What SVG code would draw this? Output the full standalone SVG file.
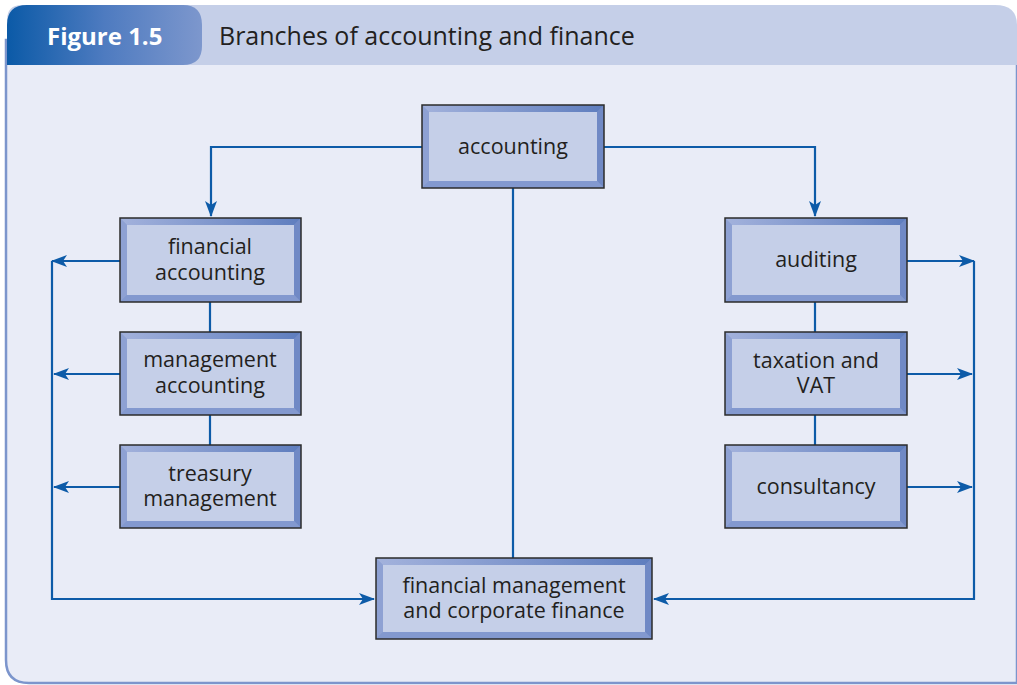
<svg xmlns="http://www.w3.org/2000/svg" width="1017" height="685" viewBox="0 0 1017 685">
<defs>
<linearGradient id="tab" x1="0" y1="0" x2="1" y2="0">
<stop offset="0" stop-color="#0B5AA7"/><stop offset="0.5" stop-color="#4E7BC0"/><stop offset="1" stop-color="#7D97CD"/>
</linearGradient>
<linearGradient id="topband" x1="0" y1="0" x2="1" y2="0">
<stop offset="0" stop-color="#A3B2DC"/><stop offset="1" stop-color="#5E7DBE"/>
</linearGradient>
<marker id="ah" viewBox="0 0 16 12" refX="15" refY="6" markerWidth="16" markerHeight="12" markerUnits="userSpaceOnUse" orient="auto">
<path d="M0,0 L16,6 L0,12 L4,6 Z" fill="#0D5BA8"/>
</marker>
<style>
.face{fill:#C5CFE8}
.bev{fill:#8197CD}
.lt{fill:#8EA1D3}
.rt{fill:#7089C5}
.bt{fill:#8399CF}
.out{fill:none;stroke:#2B2B2B;stroke-width:1.5}
.t{font-family:"Open Sans","Noto Sans","Liberation Sans",sans-serif;font-size:21.5px;fill:#231F20;text-anchor:middle}
.c{fill:none;stroke:#0D5BA8;stroke-width:2.2}
</style>
</defs>
<rect x="0" y="0" width="1017" height="685" fill="#FFFFFF"/>
<path d="M6,40 L6,660 Q6,683 29,683 L1017,683 L1017,40 Z" fill="#E9ECF7" stroke="#7C95CC" stroke-width="2.5"/>
<path d="M7,65 L7,20 Q7,5 22,5 L995,5 Q1017,5 1017,25 L1017,65 Z" fill="#C5CFE8"/>
<path d="M7,65 L7,25 Q7,5 27,5 L183,5 Q202,5 202,25 L202,46 Q202,65 183,65 Z" fill="url(#tab)"/>
<text x="47" y="45" font-family="'Open Sans','Noto Sans','Liberation Sans',sans-serif" font-size="24" font-weight="bold" fill="#FFFFFF">Figure 1.5</text>
<text x="219" y="45" font-family="'Open Sans','Noto Sans','Liberation Sans',sans-serif" font-size="25" fill="#231F20">Branches of accounting and finance</text>

<g id="connectors">
<path class="c" d="M422,147 H211 V216" marker-end="url(#ah)"/>
<path class="c" d="M604,147 H815 V216" marker-end="url(#ah)"/>
<path class="c" d="M513,188 V558"/>
<path class="c" d="M210,302 V332 M210,415 V445"/>
<path class="c" d="M815,302 V332 M815,415 V445"/>
<path class="c" d="M120,261 H52" marker-end="url(#ah)"/>
<path class="c" d="M120,374 H54" marker-end="url(#ah)"/>
<path class="c" d="M120,487 H54" marker-end="url(#ah)"/>
<path class="c" d="M52,261 V599 H374" marker-end="url(#ah)"/>
<path class="c" d="M907,261 H974" marker-end="url(#ah)"/>
<path class="c" d="M907,374 H972" marker-end="url(#ah)"/>
<path class="c" d="M907,487 H972" marker-end="url(#ah)"/>
<path class="c" d="M974,261 V599 H654" marker-end="url(#ah)"/>
</g>

<g id="accounting">
<rect class="bev" x="422" y="105" width="182" height="83"/>
<polygon class="lt" points="422,105 429,112 429,181 422,188"/>
<polygon class="rt" points="604,105 597,112 597,181 604,188"/>
<polygon class="bt" points="422,188 429,181 597,181 604,188"/>
<polygon fill="url(#topband)" points="422,105 604,105 597,112 429,112"/>
<rect class="face" x="429" y="112" width="168" height="69"/>
<rect class="out" x="422" y="105" width="182" height="83"/>
<text class="t" x="513" y="154">accounting</text>
</g>

<g id="financial-accounting">
<rect class="bev" x="120" y="218" width="181" height="84"/>
<polygon class="lt" points="120,218 127,225 127,295 120,302"/>
<polygon class="rt" points="301,218 294,225 294,295 301,302"/>
<polygon class="bt" points="120,302 127,295 294,295 301,302"/>
<polygon fill="url(#topband)" points="120,218 301,218 294,225 127,225"/>
<rect class="face" x="127" y="225" width="167" height="70"/>
<rect class="out" x="120" y="218" width="181" height="84"/>
<text class="t" x="210" y="254">financial</text>
<text class="t" x="210" y="280">accounting</text>
</g>

<g id="management-accounting">
<rect class="bev" x="120" y="332" width="181" height="83"/>
<polygon class="lt" points="120,332 127,339 127,408 120,415"/>
<polygon class="rt" points="301,332 294,339 294,408 301,415"/>
<polygon class="bt" points="120,415 127,408 294,408 301,415"/>
<polygon fill="url(#topband)" points="120,332 301,332 294,339 127,339"/>
<rect class="face" x="127" y="339" width="167" height="69"/>
<rect class="out" x="120" y="332" width="181" height="83"/>
<text class="t" x="210" y="367">management</text>
<text class="t" x="210" y="393">accounting</text>
</g>

<g id="treasury-management">
<rect class="bev" x="120" y="445" width="181" height="83"/>
<polygon class="lt" points="120,445 127,452 127,521 120,528"/>
<polygon class="rt" points="301,445 294,452 294,521 301,528"/>
<polygon class="bt" points="120,528 127,521 294,521 301,528"/>
<polygon fill="url(#topband)" points="120,445 301,445 294,452 127,452"/>
<rect class="face" x="127" y="452" width="167" height="69"/>
<rect class="out" x="120" y="445" width="181" height="83"/>
<text class="t" x="210" y="481">treasury</text>
<text class="t" x="210" y="506">management</text>
</g>

<g id="auditing">
<rect class="bev" x="725" y="218" width="182" height="84"/>
<polygon class="lt" points="725,218 732,225 732,295 725,302"/>
<polygon class="rt" points="907,218 900,225 900,295 907,302"/>
<polygon class="bt" points="725,302 732,295 900,295 907,302"/>
<polygon fill="url(#topband)" points="725,218 907,218 900,225 732,225"/>
<rect class="face" x="732" y="225" width="168" height="70"/>
<rect class="out" x="725" y="218" width="182" height="84"/>
<text class="t" x="816" y="267">auditing</text>
</g>

<g id="taxation-vat">
<rect class="bev" x="725" y="332" width="182" height="83"/>
<polygon class="lt" points="725,332 732,339 732,408 725,415"/>
<polygon class="rt" points="907,332 900,339 900,408 907,415"/>
<polygon class="bt" points="725,415 732,408 900,408 907,415"/>
<polygon fill="url(#topband)" points="725,332 907,332 900,339 732,339"/>
<rect class="face" x="732" y="339" width="168" height="69"/>
<rect class="out" x="725" y="332" width="182" height="83"/>
<text class="t" x="816" y="368">taxation and</text>
<text class="t" x="816" y="393">VAT</text>
</g>

<g id="consultancy">
<rect class="bev" x="725" y="445" width="182" height="83"/>
<polygon class="lt" points="725,445 732,452 732,521 725,528"/>
<polygon class="rt" points="907,445 900,452 900,521 907,528"/>
<polygon class="bt" points="725,528 732,521 900,521 907,528"/>
<polygon fill="url(#topband)" points="725,445 907,445 900,452 732,452"/>
<rect class="face" x="732" y="452" width="168" height="69"/>
<rect class="out" x="725" y="445" width="182" height="83"/>
<text class="t" x="816" y="494">consultancy</text>
</g>

<g id="financial-management">
<rect class="bev" x="376" y="558" width="276" height="81"/>
<polygon class="lt" points="376,558 383,565 383,632 376,639"/>
<polygon class="rt" points="652,558 645,565 645,632 652,639"/>
<polygon class="bt" points="376,639 383,632 645,632 652,639"/>
<polygon fill="url(#topband)" points="376,558 652,558 645,565 383,565"/>
<rect class="face" x="383" y="565" width="262" height="67"/>
<rect class="out" x="376" y="558" width="276" height="81"/>
<text class="t" x="514" y="593">financial management</text>
<text class="t" x="514" y="618">and corporate finance</text>
</g>
</svg>
